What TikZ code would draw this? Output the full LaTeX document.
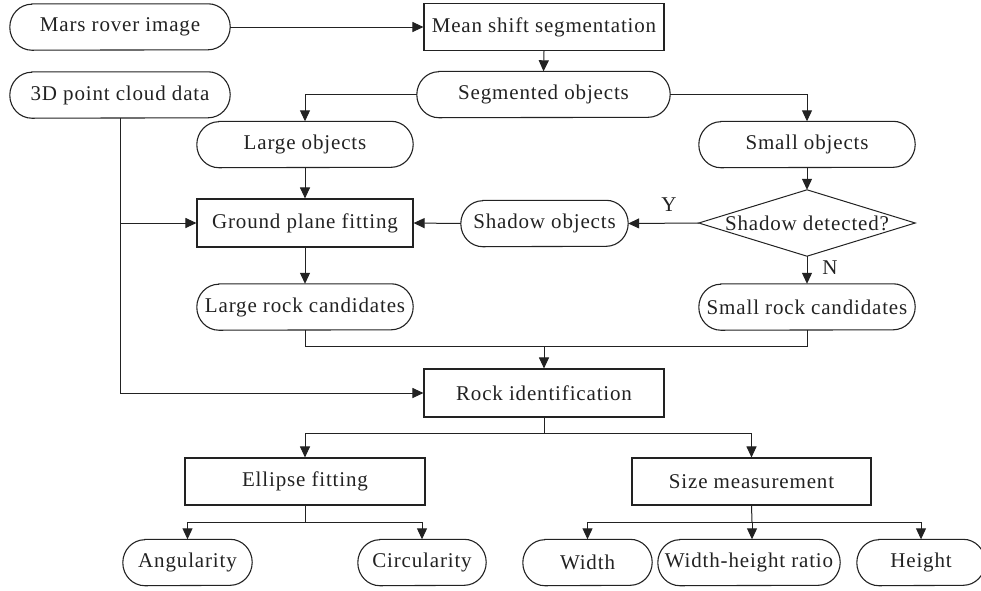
\documentclass[tikz,border=0pt]{standalone}
\usepackage{fontspec}
\setmainfont{Liberation Serif}[LetterSpace=4]
\usetikzlibrary{arrows.meta}
\definecolor{ink}{HTML}{222222}
\begin{document}
\begin{tikzpicture}[x=1pt,y=-1pt,
  font=\fontsize{21}{25}\selectfont,
  every node/.style={text=ink,inner sep=0pt},
  boxline/.style={draw=ink,line width=1.1pt},
  rectbox/.style={boxline,minimum height=48pt},
  stadbox/.style={minimum height=46pt},
  conn/.style={draw=ink,line width=1pt},
  arr/.style={conn,-{Triangle[length=11pt,width=10pt]}}]
\useasboundingbox (0,0) rectangle (981,590);
% nodes
\node[stadbox,minimum width=220pt] (mars) at (120,27) {Mars rover image};
\node[rectbox,minimum width=240pt,minimum height=47pt] (mean) at (544,27) {Mean shift segmentation};
\node[stadbox,minimum width=220pt] (cloud) at (120,95) {3D point cloud data};
\node[stadbox,minimum width=253pt] (seg) at (543.5,94.5) {Segmented objects};
\node[stadbox,minimum width=216pt] (large) at (305,144.5) {Large objects};
\node[stadbox,minimum width=216pt] (small) at (807,144.5) {Small objects};
\node[rectbox,minimum width=216pt] (ground) at (305,223) {Ground plane fitting};
\node[stadbox,minimum width=167pt] (shadow) at (544.5,223.5) {Shadow objects};
\node[minimum width=216pt,minimum height=66pt] (det) at (807,223) {Shadow detected?};
\node[stadbox,minimum width=216pt] (lrock) at (305,307) {Large rock candidates};
\node[stadbox,minimum width=216pt] (srock) at (807,307) {Small rock candidates};
\node[rectbox,minimum width=240pt] (rockid) at (544,393) {Rock identification};
\node[rectbox,minimum width=240pt,minimum height=47pt] (ellipse) at (305,481.5) {Ellipse fitting};
\node[rectbox,minimum width=239pt,minimum height=47pt] (size) at (751.5,481.5) {Size measurement};
\node[stadbox,minimum width=129pt] (ang) at (187.5,562.5) {Angularity};
\node[stadbox,minimum width=128pt] (circ) at (422,562.5) {Circularity};
\node[stadbox,minimum width=129pt] (wid) at (587.5,562.5) {Width};
\node[stadbox,minimum width=182pt] (whr) at (749,562.5) {Width-height ratio};
\node[stadbox,minimum width=128pt] (hei) at (921,562.5) {Height};
% stadium outlines
\foreach \n in {mars,cloud,seg,large,small,shadow,lrock,srock,ang,circ,wid,whr,hei}{
  \draw[boxline] ([xshift=22pt]\n.north west) -- ([xshift=-22pt]\n.north east)
    arc[start angle=90,end angle=-90,x radius=22pt,y radius=23pt]
    -- ([xshift=22pt]\n.south west)
    arc[start angle=270,end angle=90,x radius=22pt,y radius=23pt] -- cycle;
}
% diamond outline
\draw[conn] (det.north) -- (det.east) -- (det.south) -- (det.west) -- cycle;
% labels
\node (ylab) at (669,205) {Y};
\node (nlab) at (830,268) {N};
% junction coordinates
\coordinate (m1) at (544,346);
\coordinate (m2) at (544,433);
\coordinate (m3) at (305,522);
\coordinate (m4) at (752,522);
% connectors
\draw[arr] (mars.east) -- (mean.west);
\draw[arr] (mean.south) -- (seg.north);
\draw[arr] (seg.west) -| (large.north);
\draw[arr] (seg.east) -| (small.north);
\draw[arr] (large.south) -- (ground.north);
\draw[arr] (cloud.south) |- (rockid.west);
\draw[arr] (cloud.south |- ground.west) -- (ground.west);
\draw[arr] (shadow.west) -- (ground.east);
\draw[arr] (det.west) -- (shadow.east);
\draw[arr] (small.south) -- (det.north);
\draw[arr] (det.south) -- (srock.north);
\draw[arr] (ground.south) -- (lrock.north);
\draw[conn] (lrock.south) |- (m1) -| (srock.south);
\draw[arr] (m1) -- (rockid.north);
\draw[conn] (rockid.south) -- (m2);
\draw[arr] (m2) -| (ellipse.north);
\draw[arr] (m2) -| (size.north);
\draw[conn] (ellipse.south) -- (m3);
\draw[arr] (m3) -| (ang.north);
\draw[arr] (m3) -| (circ.north);
\draw[conn] (size.south) -- (m4);
\draw[arr] (m4) -| (wid.north);
\draw[arr] (m4) -- (m4 |- whr.north);
\draw[arr] (m4) -| (hei.north);
\end{tikzpicture}
\end{document}
